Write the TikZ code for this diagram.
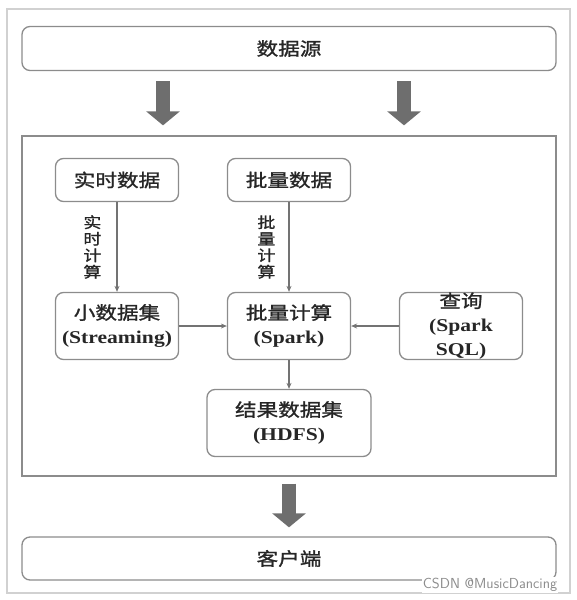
\documentclass[tikz,border=0pt]{standalone}
\usepackage{fontspec}
\setmainfont{Liberation Serif}[FakeStretch=1.2]
\newfontfamily\cjk{Noto Sans CJK SC}[FakeStretch=1.2,
    BoldFont={Noto Sans CJK SC}, BoldFeatures={FakeBold=1.2}]
\usetikzlibrary{arrows.meta}

\begin{document}
\begin{tikzpicture}[
            x = 1pt, y = -1pt, % pixel units, y pointing down
            > = {Stealth[length=6pt, width=5pt]}, % small arrow head
            node distance = 172pt, % distance between box centres
            semithick % line style
        ]

        \tikzstyle{box}=[
            draw = black!45,
            line width = 1.3pt,
            rounded corners = 8pt,
            fill = white,
            text = black!85,
            font = \bfseries\fontsize{18}{24.5}\selectfont,
            align = center,
            inner sep = 0pt,
            minimum width = 123pt,
            minimum height = 43pt
        ]
        \tikzstyle{wide}=[box, minimum width = 534pt, minimum height = 44pt]
        \tikzstyle{tall}=[box, minimum height = 67pt]
        \tikzstyle{flow}=[draw = black!55, line width = 1.2pt, ->]
        \tikzstyle{fat}=[draw = black!57, line width = 14pt,
            -{Triangle[width=33pt, length=14pt]}]
        \tikzstyle{vlabel}=[text = black!85, align = center, inner sep = 0pt,
            font = \bfseries\cjk\fontsize{15}{16.5}\selectfont]

        \useasboundingbox (0,0) rectangle (576,600);
        \draw[black!18, line width = 1.5pt] (7,9) rectangle (570,593);

        \node[wide] (src) at (289,48.5) {\cjk 数据源};
        \node[draw = black!45, line width = 1.3pt, minimum width = 534pt,
            minimum height = 340pt] (core) at (289,306) {};
        \node[wide, minimum height = 43pt] (client) at (289,558.5) {\cjk 客户端};

        \node[box] (rt) at (117,180) {\cjk 实时数据};
        \node[box] (pl) [right of=rt] {\cjk 批量数据};
        \node[tall] (xs) [below of=rt, node distance=146pt] {{\cjk 小数据集}\\(Streaming)};
        \node[tall] (pj) [right of=xs] {{\cjk 批量计算}\\(Spark)};
        \node[tall] (cx) [right of=pj, font=\bfseries\fontsize{18}{24}\selectfont]
            {{\cjk 查询}\\(Spark\\SQL)};
        \node[tall, minimum width = 164pt] (jg) [below of=pj, node distance=97pt]
            {{\cjk 结果数据集}\\(HDFS)};

        \coordinate (d1) at (163,0);
        \coordinate (d2) at (404,0);
        \path[fat, shorten <= 10pt, shorten >= 10pt] (d1 |- src.south) -- (d1 |- core.north);
        \path[fat, shorten <= 10pt, shorten >= 10pt] (d2 |- src.south) -- (d2 |- core.north);
        \path[fat, shorten <= 7pt, shorten >= 9pt] (core.south) -- (client.north);

        \path[flow] (rt) -- node[vlabel, left, xshift=-15pt] {实\\时\\计\\算} (xs);
        \path[flow] (pl) -- node[vlabel, left, xshift=-13pt] {批\\量\\计\\算} (pj);
        \path[flow] (xs) -- (pj);
        \path[flow] (cx) -- (pj);
        \path[flow] (pj) -- (jg);

        \node[fill = white, text = black!45, inner sep = 1pt,
            font = \sffamily\fontsize{14.5}{14.5}\selectfont] (mark) at (490,585)
            {CSDN @MusicDancing};
\end{tikzpicture}
\end{document}
